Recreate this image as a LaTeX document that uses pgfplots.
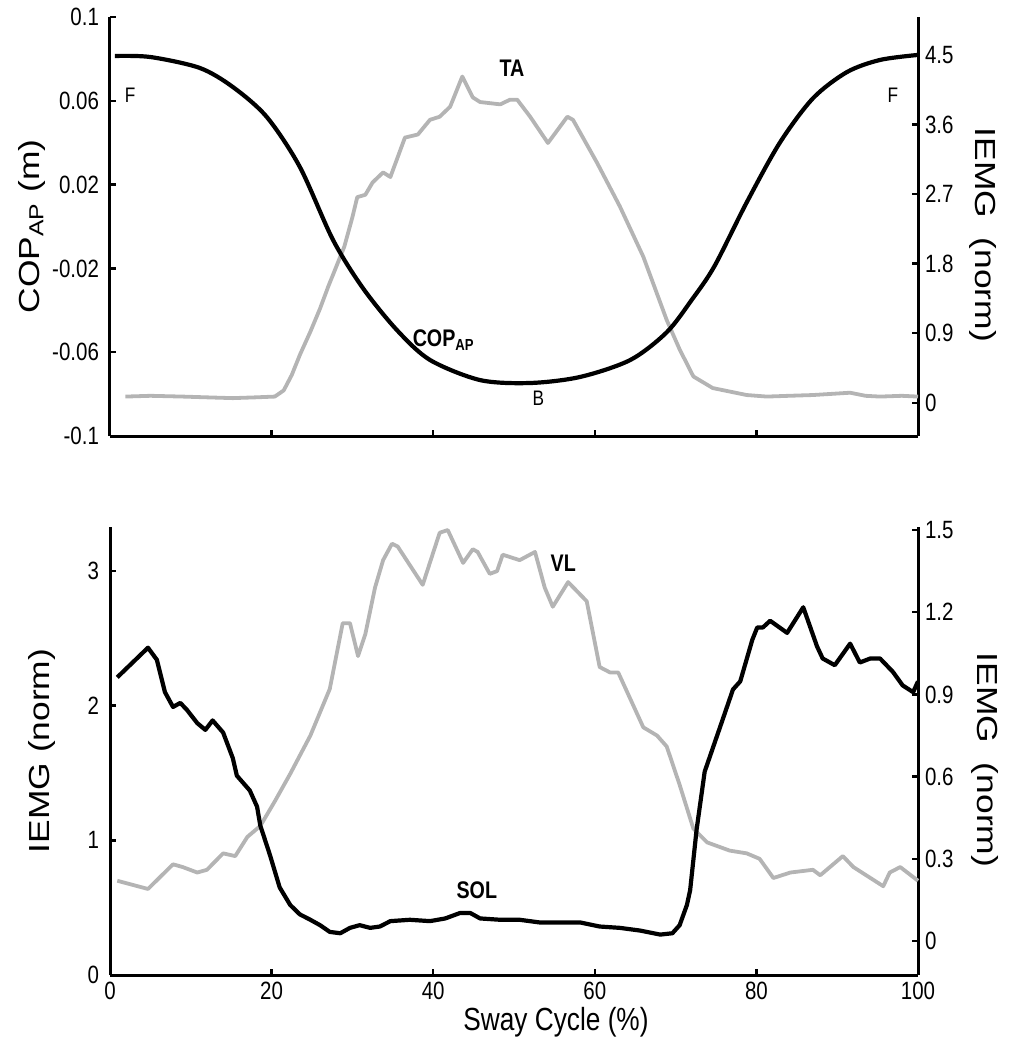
\documentclass[border=0pt]{standalone}
\usepackage{pgfplots}
\pgfplotsset{compat=1.18}
\usepackage{fontspec}
\setmainfont{Liberation Sans}[FakeStretch=0.82]
\newfontfamily\vfont{Liberation Sans}[FakeStretch=1.22]
\definecolor{lgray}{RGB}{180,180,180}
\pgfplotsset{
  base/.style={scale only axis, width=404pt, xmin=0, xmax=100, enlargelimits=false,
    tick align=inside, major tick length=3pt,
    axis line style={-, line width=1.5pt},
    every tick/.style={black, line width=1.2pt},
    tick label style={font=\fontsize{12.5}{13}\selectfont},
    /pgf/number format/assume math mode=true,
    label style={font=\vfont\fontsize{14.5}{16}\selectfont},
    clip=false},
}
\begin{document}
\begin{tikzpicture}
\useasboundingbox (0,0) rectangle (504.5pt,-525pt);
% ---------------- top panel, right axis (TA) ----------------
\begin{axis}[base, at={(55pt,-218pt)}, anchor=south west, height=209.5pt,
  ymin=-0.43, ymax=4.99, axis x line=none, axis y line*=right,
  ytick={0,0.9,1.8,2.7,3.6,4.5}, yticklabels={0,0.9,1.8,2.7,3.6,4.5},
  ylabel={IEMG\ \ (norm)},
  ylabel style={at={(axis description cs:1.08,0.48)}, anchor=center, rotate=180}]
\addplot[lgray, line width=1.9pt, line join=round] coordinates {
(1.9,0.08)(5,0.09)(9.0,0.08)(12,0.07)(15.2,0.06)(18,0.07)(20.4,0.08)(21.5,0.16)(22.5,0.36)(23.5,0.62)(24.8,0.92)
(26.0,1.22)(27.0,1.50)(28.0,1.76)(29.0,2.02)(30.0,2.40)(30.6,2.66)(31.6,2.69)(32.5,2.85)(33.8,2.98)(34.7,2.92)
(36.5,3.43)(38.1,3.47)(39.6,3.66)(40.8,3.70)(42.1,3.83)
(43.6,4.22)(44.9,3.95)(45.8,3.89)(48.3,3.86)(49.5,3.92)(50.4,3.92)(52.0,3.70)(54.2,3.36)(56.6,3.70)(57.3,3.66)
(60.3,3.10)(63.1,2.54)(66.0,1.89)(68.9,1.07)(70.5,0.69)(72.2,0.34)(74.6,0.19)(78.8,0.10)(81.3,0.08)(84,0.09)
(87.0,0.10)(91.6,0.13)(93.5,0.09)(95.3,0.08)(98,0.09)(100,0.08)};
\end{axis}
% ---------------- top panel, left axis (COP) ----------------
\begin{axis}[base, at={(55pt,-218pt)}, anchor=south west, height=209.5pt,
  ymin=-0.1, ymax=0.1, axis x line*=bottom, axis y line*=left,
  xtick={0,20,40,60,80,100}, xticklabels={},
  ytick={-0.1,-0.06,-0.02,0.02,0.06,0.1}, yticklabels={-0.1,-0.06,-0.02,0.02,0.06,0.1},
  yticklabel style={xshift=-2pt},
  ylabel={COP\textsubscript{AP} (m)},
  ylabel style={at={(axis description cs:-0.097,0.5)}, anchor=center}]
\addplot[black, line width=2.1pt, smooth, tension=0.5] coordinates {
(0.6,0.0814)(5.0,0.0809)(11.1,0.0757)(15.2,0.0666)(19.4,0.0523)(23.5,0.0284)(27.6,-0.0064)(31.3,-0.0294)
(35.5,-0.0494)(39.6,-0.0637)(45.8,-0.0733)(52.0,-0.0747)(58.2,-0.0718)(64.4,-0.0637)(68.9,-0.0505)
(72.0,-0.0350)(74.8,-0.0190)(78.8,0.0115)(82.9,0.0400)(87.0,0.0612)(91.2,0.0737)(95.3,0.0795)(100,0.0819)};
\node[font=\fontsize{10.5}{12}\selectfont] at (axis cs:2.5,0.0628) {F};
\node[font=\fontsize{10.5}{12}\selectfont] at (axis cs:96.9,0.0628) {F};
\node[font=\fontsize{10.5}{12}\selectfont] at (axis cs:53.0,-0.0819) {B};
\node[font=\bfseries\fontsize{12}{14}\selectfont] at (axis cs:49.75,0.0757) {TA};
\node[font=\bfseries\fontsize{12}{14}\selectfont] at (axis cs:41.3,-0.0542) {COP\textsubscript{AP}};
\end{axis}
% ---------------- bottom panel, right axis (VL) ----------------
\begin{axis}[base, at={(55pt,-487.5pt)}, anchor=south west, height=224pt,
  ymin=-0.124, ymax=1.511, axis x line=none, axis y line*=right,
  ytick={0,0.3,0.6,0.9,1.2,1.5}, yticklabels={0,0.3,0.6,0.9,1.2,1.5},
  ylabel={IEMG\ \ (norm)},
  ylabel style={at={(axis description cs:1.083,0.48)}, anchor=center, rotate=180}]
\addplot[lgray, line width=1.9pt, line join=round] coordinates {
(0.9,0.22)(4.7,0.19)(7.8,0.28)(9.0,0.27)(10.8,0.25)(12.0,0.26)(14.0,0.32)(15.5,0.31)(17.0,0.38)(18.6,0.42)
(20.4,0.51)(22.3,0.61)(24.8,0.75)(27.2,0.92)(28.8,1.16)(29.7,1.16)(30.7,1.04)(31.6,1.12)(32.8,1.29)(33.8,1.39)
(34.9,1.45)(35.6,1.44)(38.7,1.30)(40.8,1.49)(41.8,1.50)(43.7,1.38)(44.9,1.43)(45.5,1.42)(47.0,1.34)(47.9,1.35)
(48.6,1.41)(50.7,1.39)(52.6,1.42)(53.8,1.29)(54.8,1.22)(56.7,1.31)(59.0,1.24)(60.6,1.00)(61.9,0.98)(62.9,0.98)
(66.0,0.78)(67.7,0.75)(68.9,0.71)(70.5,0.57)(72.2,0.41)(73.9,0.36)(76.7,0.33)(78.8,0.32)(80.4,0.30)(82.1,0.23)
(84.2,0.25)(87.0,0.26)(87.9,0.24)(90.7,0.31)(92.0,0.27)(95.7,0.20)(96.5,0.25)(97.8,0.27)(100,0.22)};
\end{axis}
% ---------------- bottom panel, left axis (SOL) ----------------
\begin{axis}[base, at={(55pt,-487.5pt)}, anchor=south west, height=224pt,
  ymin=0, ymax=3.326, axis x line*=bottom, axis y line*=left,
  xtick={0,20,40,60,80,100}, xticklabels={0,20,40,60,80,100},
  ytick={0,1,2,3}, yticklabels={0,1,2,3},
  yticklabel style={xshift=-2pt},
  xlabel={Sway Cycle (\%)},
  xlabel style={at={(axis description cs:0.552,-0.105)}, anchor=center, font=\fontsize{16}{18}\selectfont},
  ylabel={IEMG (norm)},
  ylabel style={at={(axis description cs:-0.084,0.5)}, anchor=center}]
\addplot[black, line width=2.1pt, line join=round] coordinates {
(0.9,2.21)(4.7,2.43)(5.8,2.34)(6.8,2.10)(7.8,1.99)(8.7,2.02)(9.5,1.97)(10.8,1.87)(11.8,1.82)(12.7,1.89)
(14.0,1.80)(15.2,1.61)(15.7,1.48)(17.3,1.37)(18.2,1.25)(18.6,1.11)(19.8,0.89)(21.0,0.65)(22.3,0.52)(23.5,0.45)
(24.8,0.41)(26.0,0.37)(27.2,0.32)(28.5,0.31)(29.7,0.35)(30.9,0.37)(32.2,0.35)(33.4,0.36)(34.7,0.40)(37.1,0.41)
(39.6,0.40)(41.5,0.42)(43.3,0.46)(44.6,0.46)(45.8,0.42)(48.3,0.41)(50.7,0.41)(53.2,0.39)(55.7,0.39)(58.2,0.39)
(60.6,0.36)(63.1,0.35)(65.6,0.33)(68.1,0.30)(69.6,0.31)(70.5,0.37)(71.4,0.52)(71.8,0.63)(72.6,1.08)(73.6,1.51)
(75.9,1.91)(77.1,2.12)(78.0,2.18)(79.5,2.49)(80.1,2.58)(80.8,2.58)(81.7,2.63)(83.8,2.54)(85.8,2.73)(87.5,2.44)
(88.2,2.35)(89.7,2.30)(91.6,2.46)(92.8,2.32)(94.1,2.35)(95.3,2.35)(96.9,2.25)(98.1,2.15)(99.4,2.10)(100,2.18)};
\node[font=\bfseries\fontsize{12}{14}\selectfont] at (axis cs:56.1,3.06) {VL};
\node[font=\bfseries\fontsize{12}{14}\selectfont] at (axis cs:45.4,0.63) {SOL};
\end{axis}
\end{tikzpicture}
\end{document}
